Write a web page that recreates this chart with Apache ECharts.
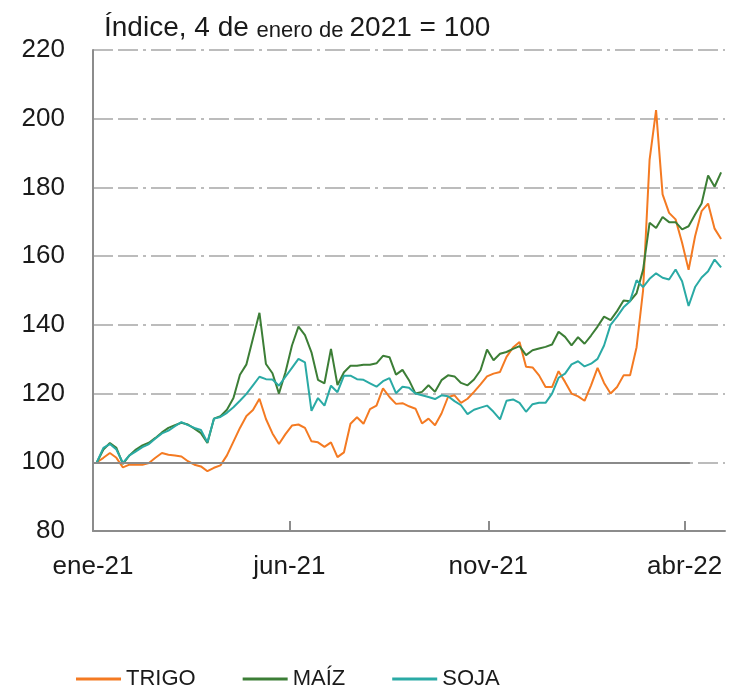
<!DOCTYPE html>
<html>
<head>
<meta charset="utf-8">
<title>Trigo, maíz y soja</title>
<script src="https://cdn.jsdelivr.net/npm/echarts@6/dist/echarts.min.js"></script>
<style>
  html, body { margin: 0; padding: 0; background: #fff; }
  #chart { width: 731px; height: 691px; }
</style>
</head>
<body>
<div id="chart"></div>
<script>
// fechas (cada 5 días) y precios índice
const dates = [
  '2021-01-04', '2021-01-09', '2021-01-14', '2021-01-19', '2021-01-24', '2021-01-29',
  '2021-02-03', '2021-02-08', '2021-02-13', '2021-02-18', '2021-02-23', '2021-02-28',
  '2021-03-05', '2021-03-10', '2021-03-15', '2021-03-20', '2021-03-25', '2021-03-30',
  '2021-04-04', '2021-04-09', '2021-04-14', '2021-04-19', '2021-04-24', '2021-04-29',
  '2021-05-04', '2021-05-09', '2021-05-14', '2021-05-19', '2021-05-24', '2021-05-29',
  '2021-06-03', '2021-06-08', '2021-06-13', '2021-06-18', '2021-06-23', '2021-06-28',
  '2021-07-03', '2021-07-08', '2021-07-13', '2021-07-18', '2021-07-23', '2021-07-28',
  '2021-08-02', '2021-08-07', '2021-08-12', '2021-08-17', '2021-08-22', '2021-08-27',
  '2021-09-01', '2021-09-06', '2021-09-11', '2021-09-16', '2021-09-21', '2021-09-26',
  '2021-10-01', '2021-10-06', '2021-10-11', '2021-10-16', '2021-10-21', '2021-10-26', '2021-10-31',
  '2021-11-05', '2021-11-10', '2021-11-15', '2021-11-20', '2021-11-25', '2021-11-30',
  '2021-12-05', '2021-12-10', '2021-12-15', '2021-12-20', '2021-12-25', '2021-12-30',
  '2022-01-04', '2022-01-09', '2022-01-14', '2022-01-19', '2022-01-24', '2022-01-29',
  '2022-02-03', '2022-02-08', '2022-02-13', '2022-02-18', '2022-02-23', '2022-02-28',
  '2022-03-05', '2022-03-10', '2022-03-15', '2022-03-20', '2022-03-25', '2022-03-30',
  '2022-04-04', '2022-04-09', '2022-04-14', '2022-04-19', '2022-04-24', '2022-04-29'
]

const trigo = [
  100, 101.3, 102.7, 101.3, 98.5, 99.3,
  99.3, 99.3, 99.8, 101.3, 102.7, 102.2,
  102, 101.7, 100.3, 99.3, 98.8, 97.4,
  98.4, 99.1, 102, 106, 110, 113.5,
  115.2, 118.5, 112.6, 108.4, 105.3, 108.2,
  110.7, 111, 110, 106.1, 105.8, 104.5,
  105.8, 101.5, 102.9, 111.2, 113.1, 111.2,
  115.5, 116.5, 121.5, 119, 117, 117.2,
  116.3, 115.6, 111.3, 112.7, 110.8, 114.2,
  119, 119.5, 117.3, 118.5, 120.5, 122.7, 125,
  125.8, 126.3, 130.7, 133.4, 135, 127.8,
  127.6, 125.3, 121.9, 121.9, 126.5, 123.4,
  120, 119.2, 117.9, 122.4, 127.5, 123.1,
  120, 121.9, 125.3, 125.3, 133.5, 150,
  188, 202.5, 178, 172.6, 170.7, 163.9,
  156, 165.8, 173.1, 175.3, 168, 165
]

const maiz = [
  100, 103.7, 105.6, 104.2, 99.5, 102,
  103.7, 104.9, 105.7, 107.1, 108.7, 110,
  110.8, 111.5, 111, 109.8, 108.5, 105.6,
  112.7, 113.4, 115.3, 118.7, 125.5, 128.5,
  136, 143.5, 128.6, 125.9, 120, 126.2,
  134, 139.5, 137, 132, 124, 123,
  133, 122.5, 126.2, 128.1, 128.1, 128.4,
  128.4, 128.8, 131, 130.6, 125.5, 126.9,
  123.9, 120, 120.5, 122.4, 120.5, 123.9,
  125.3, 125, 123.1, 122.4, 124.1, 126.8, 132.8,
  129.7, 131.6, 132.1, 133, 133.8, 131.2,
  132.6, 133.1, 133.6, 134.3, 138, 136.5,
  134, 136.4, 134.5, 136.9, 139.5, 142.4,
  141.4, 144, 147.1, 146.9, 149.2, 156,
  169.7, 168.2, 171.4, 169.9, 169.9, 167.8,
  168.7, 172.1, 175.3, 183.5, 180.2, 184.4
]

const soja = [
  100, 104.2, 105.3, 103.7, 99.8, 102,
  103.2, 104.4, 105.3, 106.9, 108.4, 109.2,
  110.5, 111.7, 110.8, 110, 109.4, 105.8,
  112.7, 113.2, 114.4, 116, 117.9, 119.9,
  122.4, 124.9, 124.2, 124.1, 122.3, 124.9,
  127.5, 130.1, 129.1, 115, 118.7, 116.5,
  122.3, 120.4, 125.2, 125.2, 124.2, 124,
  123, 122, 123.6, 124.5, 120.1, 122,
  121.7, 120, 119.5, 119, 118.4, 119.5,
  119.2, 117.8, 116.6, 114, 115.3, 115.9, 116.5,
  114.7, 112.5, 117.9, 118.3, 117.3, 114.7,
  116.9, 117.3, 117.3, 120, 124.6, 125.8,
  128.5, 129.4, 127.9, 128.7, 130.1, 134,
  140, 142.4, 145.1, 146.9, 153, 151,
  153.4, 155, 153.7, 153.2, 156.1, 152.7,
  145.5, 151, 153.8, 155.6, 159, 156.7
]

const tickDates = ['2021-01-01', '2021-06-01', '2021-11-01', '2022-04-01']
const tickLabels = ['ene-21', 'jun-21', 'nov-21', 'abr-22']

// fecha 'yyyy-mm-dd' a milisegundos (hora local)
function toTime (s) {
  const p = s.split('-')
  return new Date(+p[0], +p[1] - 1, +p[2]).getTime()
}

function pairs (values) {
  return dates.map((d, i) => [toTime(d), values[i]])
}

const tickTimes = tickDates.map(toTime)
const font = 'Liberation Sans, Arial, sans-serif'

const chart = echarts.init(document.getElementById('chart'))

const option = {
  animation: false,
  color: ['#F47A22', '#3C7E36', '#2AAAA5'],
  textStyle: { fontFamily: font },
  title: {
    text: '{a|Índice, 4 de }{b|enero de }{a|2021 = 100}',
    left: 104,
    top: 14,
    padding: 0,
    textStyle: {
      fontWeight: 'normal',
      rich: {
        a: { fontSize: 28, color: '#1a1a1a', fontFamily: font, fontWeight: 'normal', verticalAlign: 'bottom' },
        b: { fontSize: 22, color: '#1a1a1a', fontFamily: font, fontWeight: 'normal', verticalAlign: 'bottom' }
      }
    }
  },
  grid: {
    left: 93,
    right: 6,
    top: 50,
    bottom: 160
  },
  legend: {
    left: 76,
    top: 668,
    padding: 0,
    icon: 'rect',
    itemWidth: 45,
    itemHeight: 3,
    itemGap: 47,
    textStyle: {
      fontSize: 22,
      color: '#1a1a1a',
      fontFamily: font
    }
  },
  xAxis: {
    // eje de valores en milisegundos, marcas solo en los meses del original
    type: 'value',
    min: toTime('2021-01-01'),
    max: toTime('2022-05-02'),
    axisLine: { lineStyle: { color: '#8c8c8c', width: 2 } },
    axisTick: {
      inside: true,
      length: 10,
      customValues: tickTimes,
      lineStyle: { color: '#8c8c8c', width: 2 }
    },
    axisLabel: {
      customValues: tickTimes,
      margin: 23,
      fontSize: 26,
      color: '#1a1a1a',
      formatter: function (value) {
        let best = 0
        tickTimes.forEach((t, i) => {
          if (Math.abs(t - value) < Math.abs(tickTimes[best] - value)) best = i
        })
        return tickLabels[best]
      }
    },
    splitLine: { show: false }
  },
  yAxis: {
    type: 'value',
    min: 80,
    max: 220,
    interval: 20,
    axisLine: { show: true, lineStyle: { color: '#8c8c8c', width: 2 } },
    axisTick: { show: false },
    axisLabel: { margin: 28, fontSize: 26, color: '#1a1a1a' },
    splitLine: {
      show: true, // líneas de trazo y punto
      lineStyle: { color: '#a6a6a6', width: 1.5, type: [20, 5, 20, 5, 3, 5] }
    }
  },
  series: [
    {
      name: 'TRIGO',
      type: 'line',
      showSymbol: false,
      lineStyle: { width: 2 },
      data: pairs(trigo),
      markLine: {
        silent: true,
        symbol: 'none',
        label: { show: false },
        lineStyle: { color: '#8a8a8a', width: 2, type: 'solid' },
        data: [[
          { coord: [toTime('2021-01-01'), 100] },
          { coord: [toTime('2022-04-05'), 100] }
        ]]
      }
    },
    {
      name: 'MAÍZ',
      type: 'line',
      showSymbol: false,
      lineStyle: { width: 2 },
      data: pairs(maiz)
    },
    {
      name: 'SOJA',
      type: 'line',
      showSymbol: false,
      lineStyle: { width: 2 },
      data: pairs(soja)
    }
  ]
}

chart.setOption(option)
</script>
</body>
</html>
